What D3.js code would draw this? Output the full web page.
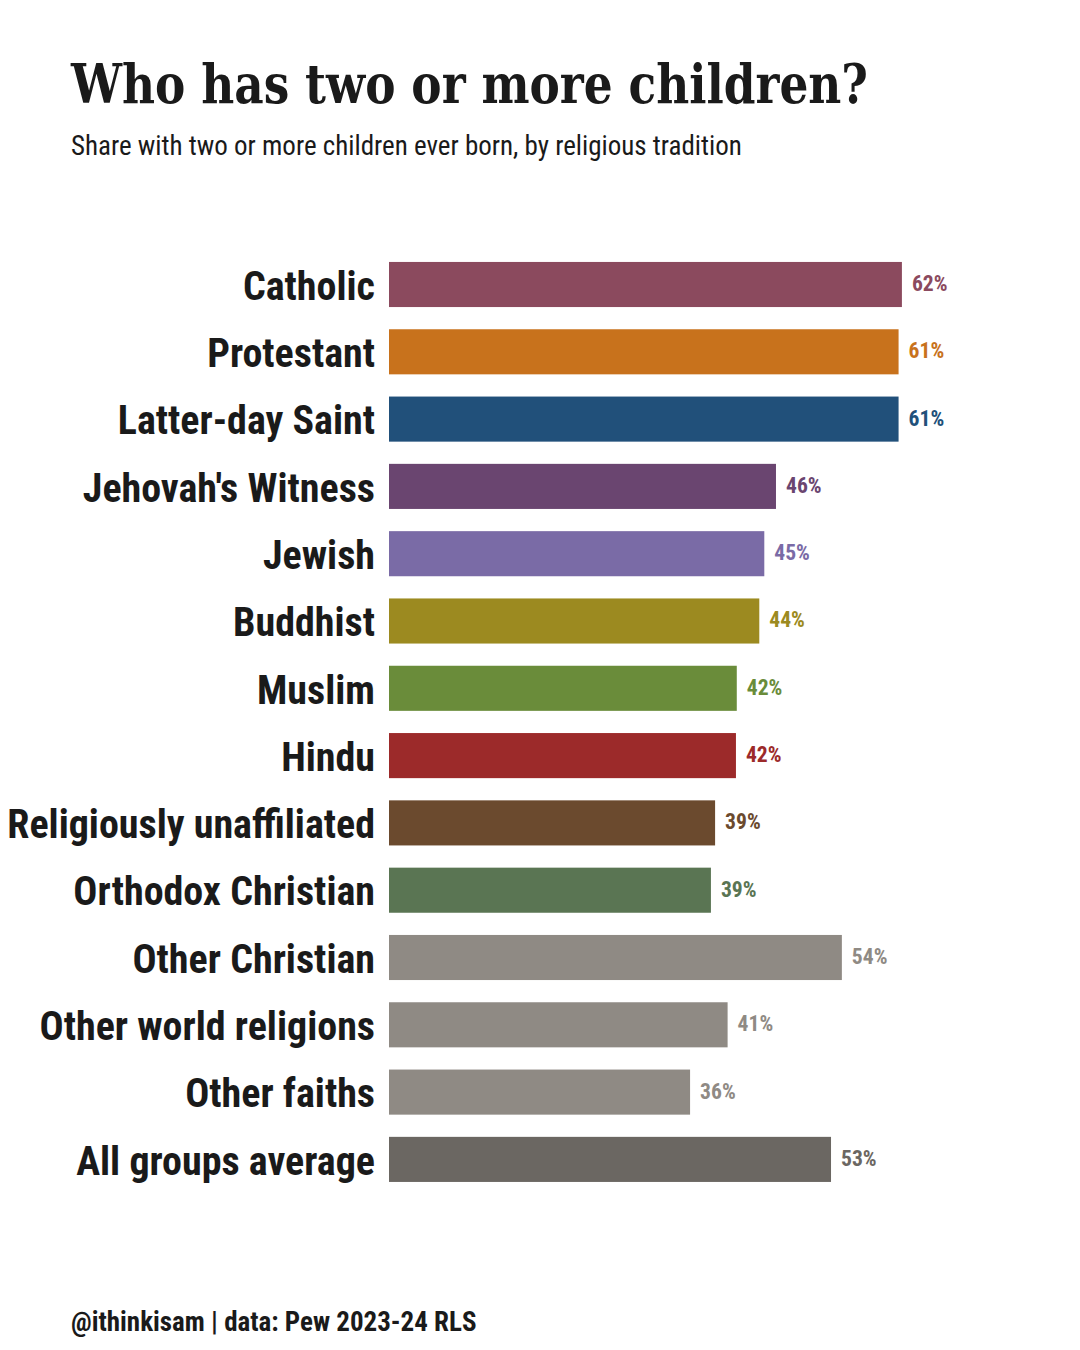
<!DOCTYPE html>
<html>
<head>
<meta charset="utf-8">
<script src="https://cdn.jsdelivr.net/npm/d3@7"></script>
<style>
  html, body { margin: 0; padding: 0; background: #ffffff; }
  svg { display: block; }
  .cond { font-family: "Roboto Condensed", "Roboto", sans-serif; font-stretch: condensed; }
</style>
</head>
<body>
<div id="chart"></div>
<script>
const categories = [
  "Catholic", "Protestant", "Latter-day Saint", "Jehovah's Witness", "Jewish",
  "Buddhist", "Muslim", "Hindu", "Religiously unaffiliated", "Orthodox Christian",
  "Other Christian", "Other world religions", "Other faiths", "All groups average"
];
const values = [61.5, 61.1, 61.1, 46.4, 45.0, 44.4, 41.7, 41.6, 39.1, 38.6, 54.3, 40.6, 36.1, 53.0];
const colors = [
  "#8b4a5e", "#c8721c", "#21507a", "#6a4570", "#7a6ba6",
  "#9c8a20", "#6a8c3a", "#9c2a2a", "#6b4a2e", "#5a7553",
  "#8f8a84", "#8f8a84", "#8f8a84", "#6b6762"
];
const titleText = "Who has two or more children?";
const subtitleText = "Share with two or more children ever born, by religious tradition";
const footerText = "@ithinkisam | data: Pew 2023-24 RLS";

const W = 1080, H = 1350;
const svg = d3.select("#chart").append("svg").attr("width", W).attr("height", H);

const x = d3.scaleLinear().domain([0, 100]).range([389, 1223]);
const y = d3.scaleBand().domain(categories).range([250.85, 1193.05]).paddingInner(0.33).paddingOuter(0.165);

const data = categories.map((c, i) => ({ c, v: values[i], col: colors[i] }));

// Title
svg.append("text")
  .attr("x", 71).attr("y", 103)
  .attr("font-family", "'Roboto Slab', 'DejaVu Serif', serif")
  .attr("font-weight", 700)
  .attr("font-size", 55)
  .attr("textLength", 797)
  .attr("lengthAdjust", "spacingAndGlyphs")
  .attr("fill", "#1a1a1a")
  .text(titleText);

svg.append("text")
  .attr("class", "cond")
  .attr("x", 71).attr("y", 155)
  .attr("font-size", 27)
  .attr("fill", "#1a1a1a")
  .text(subtitleText);

// Bars
svg.append("g").selectAll("rect").data(data).join("rect")
  .attr("x", x(0))
  .attr("y", d => y(d.c))
  .attr("width", d => x(d.v) - x(0))
  .attr("height", y.bandwidth())
  .attr("fill", d => d.col);

// Category labels
svg.append("g").selectAll("text").data(data).join("text")
  .attr("class", "cond")
  .attr("x", x(0) - 14)
  .attr("y", d => y(d.c) + y.bandwidth() / 2)
  .attr("dy", "0.38em")
  .attr("text-anchor", "end")
  .attr("font-size", 40)
  .attr("font-weight", 700)
  .attr("fill", "#1a1a1a")
  .text(d => d.c);

// Value labels
svg.append("g").selectAll("text").data(data).join("text")
  .attr("class", "cond")
  .attr("x", d => x(d.v) + 10)
  .attr("y", d => y(d.c) + y.bandwidth() / 2)
  .attr("dy", "0.3em")
  .attr("font-size", 21.6)
  .attr("font-weight", 700)
  .attr("fill", d => d.col)
  .text(d => d3.format(".0f")(d.v) + "%");

// Footer
svg.append("text")
  .attr("class", "cond")
  .attr("x", 71).attr("y", 1331)
  .attr("font-size", 27)
  .attr("font-weight", 700)
  .attr("fill", "#1a1a1a")
  .text(footerText);
</script>
</body>
</html>
